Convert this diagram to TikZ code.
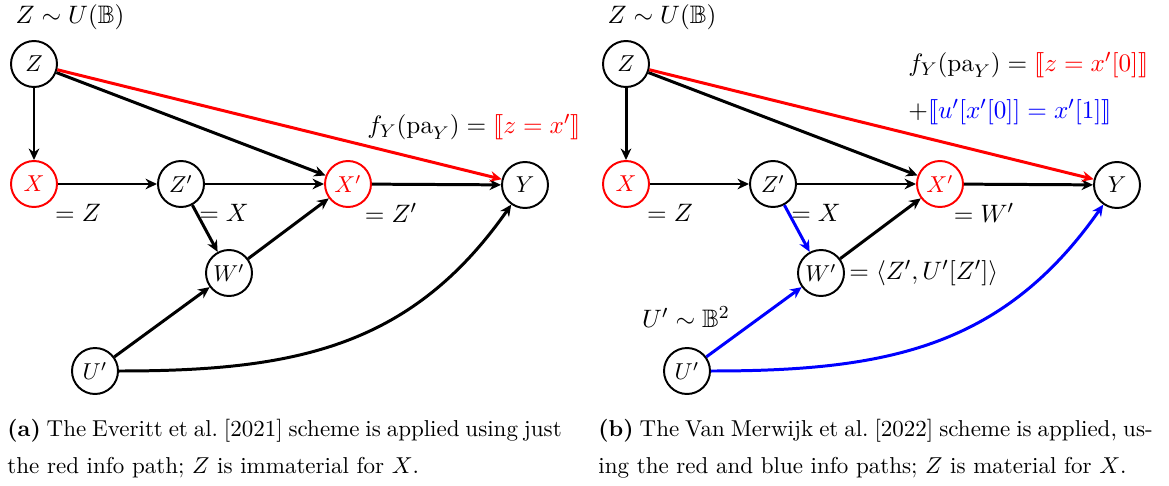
\documentclass[tikz,border=0pt]{standalone}
\usepackage{amsmath,amssymb}
\usepackage{stmaryrd}
\usetikzlibrary{arrows.meta}
\begin{document}
\begin{tikzpicture}[x=0.4348pt,y=-0.4348pt,
  nd/.style={circle,draw,line width=0.85pt,minimum size=20pt,inner sep=0pt,font=\normalsize},
  rnd/.style={nd,draw=red,text=red},
  ed/.style={line width=1.3pt,-{Stealth[length=5pt,width=4.6pt]}},
  red edge/.style={ed,draw=red},
  blue edge/.style={ed,draw=blue},
  lbl/.style={font=\fontsize{11}{13}\selectfont,inner sep=0pt},
  captext/.style={inner sep=0pt,anchor=base west,font=\normalsize}]
\useasboundingbox (0,0) rectangle (1169,485);
% ---------- panel (a)
\node[nd]  (aZ)  at (34,64)   {$Z$};
\node[rnd] (aX)  at (34,184)  {$X$};
\node[nd]  (aZp) at (181,184) {$Z'$};
\node[rnd] (aXp) at (348,184) {$X'$};
\node[nd]  (aY)  at (525,185) {$Y$};
\node[nd]  (aW)  at (229,273) {$W'$};
\node[nd]  (aU)  at (95,371)  {$U'$};
\node[lbl] (aZl) at (70,17) {$Z\sim U(\mathbb{B})$};
\node[lbl,anchor=west] (afy) at (367,127) {$f_Y(\mathrm{pa}_Y)=\textcolor{red}{\llbracket z=x'\rrbracket}$};
\node[lbl] (aXl) at (78,213) {$=Z$};
\node[lbl] (aZpl) at (224,213) {$=X$};
\node[lbl] (aXpl) at (391,213) {$=Z'$};
\draw[ed] (aZ) -- (aX);
\draw[ed] (aZ) -- (aXp);
\draw[ed] (aX) -- (aZp);
\draw[ed] (aZp) -- (aXp);
\draw[ed] (aZp) -- (aW);
\draw[ed] (aW) -- (aXp);
\draw[ed] (aXp) -- (aY);
\draw[ed] (aU) -- (aW);
\draw[ed] (aU) to[out=0,in=-125,looseness=1.05] (aY);
\draw[red edge] (aZ) -- (aY);
\node[captext] (capa1) at (7,436) {\makebox[241pt][s]{\textbf{(a)} The Everitt et al.\ [2021] scheme is applied using just}};
\node[captext] (capa2) at (7,473) {the red info path; $Z$ is immaterial for $X$.};
% ---------- panel (b)
\node[nd]  (bZ)  at (626,64)   {$Z$};
\node[rnd] (bX)  at (626,184)  {$X$};
\node[nd]  (bZp) at (773,184) {$Z'$};
\node[rnd] (bXp) at (940,184) {$X'$};
\node[nd]  (bY)  at (1117,185) {$Y$};
\node[nd]  (bW)  at (821,273) {$W'$};
\node[nd]  (bU)  at (687,371)  {$U'$};
\node[lbl] (bZl) at (662,17) {$Z\sim U(\mathbb{B})$};
\node[lbl,anchor=west] (bfy) at (908,65) {$f_Y(\mathrm{pa}_Y)=\textcolor{red}{\llbracket z=x'[0]\rrbracket}$};
\node[lbl,anchor=west] (bfy2) at (908,112) {$+\textcolor{blue}{\llbracket u'[x'[0]]=x'[1]\rrbracket}$};
\node[lbl] (bXl) at (670,213) {$=Z$};
\node[lbl] (bZpl) at (816,213) {$=X$};
\node[lbl] (bXpl) at (984,213) {$=W'$};
\node[lbl,anchor=west] (bWl) at (849,273) {$=\langle Z',U'[Z']\rangle$};
\node[lbl] (bUl) at (686,317) {$U'\sim\mathbb{B}^2$};
\draw[ed] (bZ) -- (bX);
\draw[ed] (bZ) -- (bXp);
\draw[ed] (bX) -- (bZp);
\draw[ed] (bZp) -- (bXp);
\draw[blue edge] (bZp) -- (bW);
\draw[ed] (bW) -- (bXp);
\draw[ed] (bXp) -- (bY);
\draw[blue edge] (bU) -- (bW);
\draw[blue edge] (bU) to[out=0,in=-125,looseness=1.05] (bY);
\draw[red edge] (bZ) -- (bY);
\node[captext] (capb1) at (598,436) {\makebox[241pt][s]{\textbf{(b)} The Van Merwijk et al.\ [2022] scheme is applied, us-}};
\node[captext] (capb2) at (598,473) {ing the red and blue info paths; $Z$ is material for $X$.};
\end{tikzpicture}
\end{document}
